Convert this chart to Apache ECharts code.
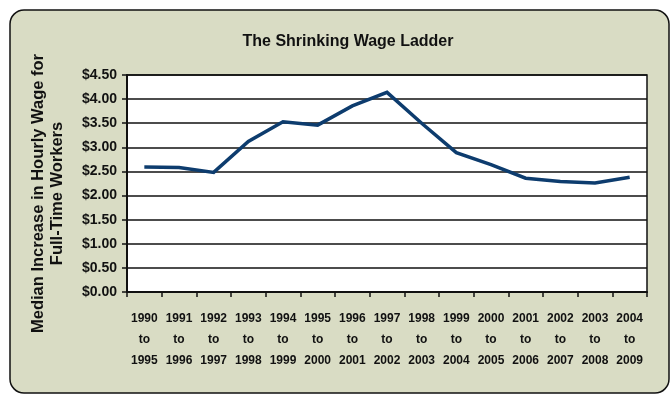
<!DOCTYPE html>
<html>
<head>
<meta charset="utf-8">
<script src="https://cdn.jsdelivr.net/npm/echarts@6/dist/echarts.min.js"></script>
<style>
  html, body { margin: 0; padding: 0; background: #ffffff; }
  #chart { width: 670px; height: 394px; }
</style>
</head>
<body>
<div id="chart"></div>
<script>
// Five-year windows over which the median hourly wage change is measured
const periods = [
  '1990\nto\n1995', '1991\nto\n1996', '1992\nto\n1997', '1993\nto\n1998',
  '1994\nto\n1999', '1995\nto\n2000', '1996\nto\n2001', '1997\nto\n2002',
  '1998\nto\n2003', '1999\nto\n2004', '2000\nto\n2005', '2001\nto\n2006',
  '2002\nto\n2007', '2003\nto\n2008', '2004\nto\n2009'
];

// Median increase in hourly wage (dollars) for full-time workers
const medianIncrease = [
  2.59, 2.58, 2.48, 3.12, 3.53, 3.46, 3.86, 4.14,
  3.50, 2.89, 2.64, 2.36, 2.29, 2.26, 2.38
];

// Dollar tick values on the vertical axis
const yMin = 0;
const yMax = 4.5;
const yStep = 0.5;

const FONT = '"Liberation Sans", Arial, sans-serif';

const chart = echarts.init(document.getElementById('chart'), null, { renderer: 'canvas' });

chart.setOption({
  backgroundColor: '#ffffff',
  animation: false,
  graphic: [{
    type: 'rect',
    z: -10,
    silent: true,
    shape: { x: 10, y: 10, width: 659, height: 383, r: 14 },
    style: { fill: '#d9dcc4', stroke: '#111111', lineWidth: 1.5 }
  }],
  title: {
    text: 'The Shrinking Wage Ladder',
    left: 343,
    top: 29,
    textAlign: 'center',
    textStyle: {
      fontFamily: FONT,
      fontWeight: 'bold',
      fontSize: 16,
      color: '#111111'
    }
  },
  grid: {
    left: 127,
    top: 75,
    width: 520,
    height: 217,
    show: true,
    backgroundColor: '#ffffff',
    borderColor: '#111111',
    borderWidth: 1.5
  },
  xAxis: {
    type: 'category',
    data: periods,
    boundaryGap: true,
    axisLine: { lineStyle: { color: '#111111', width: 2 } },
    axisTick: { show: true, length: 5, alignWithLabel: false, lineStyle: { color: '#111111', width: 1.5 } },
    axisLabel: {
      interval: 0,
      margin: 16,
      lineHeight: 21,
      fontFamily: FONT,
      fontWeight: 'bold',
      fontSize: 12,
      color: '#111111'
    }
  },
  yAxis: {
    type: 'value',
    min: yMin,
    max: yMax,
    interval: yStep,
    name: 'Median Increase in Hourly Wage for\nFull-Time Workers',
    nameLocation: 'middle',
    nameGap: 60,
    nameRotate: 90,
    nameTextStyle: {
      fontFamily: FONT,
      fontWeight: 'bold',
      fontSize: 16.5,
      lineHeight: 19,
      color: '#111111',
      padding: [0, 20, 0, 0]
    },
    axisLine: { show: true, lineStyle: { color: '#111111', width: 2 } },
    axisTick: { show: true, length: 5, lineStyle: { color: '#111111', width: 1.5 } },
    splitLine: { show: true, lineStyle: { color: '#111111', width: 1.5 } },
    axisLabel: {
      margin: 10,
      fontFamily: FONT,
      fontWeight: 'bold',
      fontSize: 14,
      color: '#111111',
      formatter: v => '$' + v.toFixed(2)
    }
  },
  series: [{
    type: 'line',
    data: medianIncrease,
    symbol: 'none',
    lineStyle: { color: '#0d3c6e', width: 3.5, join: 'miter' },
    z: 5
  }]
});
</script>
</body>
</html>
